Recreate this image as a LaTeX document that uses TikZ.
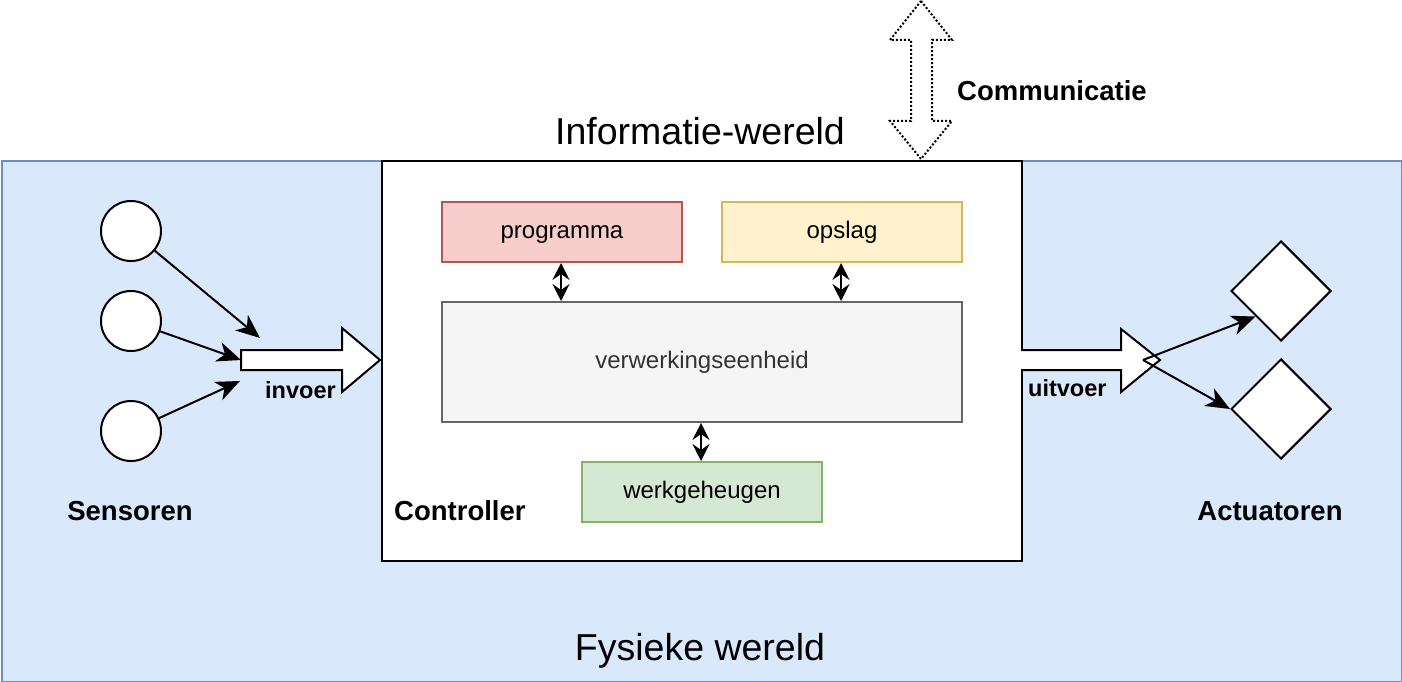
\documentclass[tikz,border=0pt]{standalone}
\usepackage{fontspec}
\setmainfont{Liberation Sans}
\usetikzlibrary{arrows.meta,shapes.geometric}
\definecolor{outerfill}{HTML}{DAE8FC}
\definecolor{outerline}{HTML}{6C8EBF}
\definecolor{redfill}{HTML}{F8CECC}
\definecolor{redline}{HTML}{B85450}
\definecolor{yelfill}{HTML}{FFF2CC}
\definecolor{yelline}{HTML}{D6B656}
\definecolor{grayfill}{HTML}{F5F5F5}
\definecolor{grayline}{HTML}{666666}
\definecolor{graytext}{HTML}{333333}
\definecolor{grnfill}{HTML}{D5E8D4}
\definecolor{grnline}{HTML}{82B366}
\tikzset{
  box/.style={rectangle, line width=2pt, inner sep=0pt, text height=17pt, text depth=5pt, font=\fontsize{24}{28}\selectfont},
  sensor/.style={circle, draw=black, fill=white, line width=2pt, minimum size=60pt, inner sep=0pt},
  actuator/.style={diamond, draw=black, fill=white, line width=2pt, minimum size=100pt, inner sep=0pt},
  bigarrow/.style={draw=black, fill=white, line width=2pt, line join=miter},
  tipA/.tip={Stealth[length=24pt,width=20pt,inset=7pt]},
  tipB/.tip={Stealth[length=17pt,width=17pt,inset=6pt]},
  conn/.style={line width=2pt, -tipA},
  dconn/.style={line width=2pt, tipB-tipB},
  boldlbl/.style={font=\bfseries\fontsize{27.5}{32}\selectfont, inner sep=0pt},
  smallbold/.style={font=\bfseries\fontsize{23.5}{28}\selectfont, inner sep=0pt},
  title/.style={font=\fontsize{37.5}{44}\selectfont, inner sep=0pt},
}
\begin{document}
\begin{tikzpicture}[x=1pt,y=-1pt]
\useasboundingbox (0,0) rectangle (1402,682);
% outer world
\node[rectangle, draw=outerline, fill=outerfill, line width=2pt, minimum width=1400pt, minimum height=521pt, anchor=north west, inner sep=0pt] (fysiek) at (1,160) {};
% controller
\node[rectangle, draw=black, fill=white, line width=2pt, minimum width=640pt, minimum height=400pt, anchor=north west, inner sep=0pt] (ctrl) at (381,160) {};
% inner boxes
\node[box, draw=redline, fill=redfill, minimum width=240pt, minimum height=60pt, anchor=north west] (prog) at (441,201) {programma};
\node[box, draw=yelline, fill=yelfill, minimum width=240pt, minimum height=60pt, anchor=north west] (opslag) at (721,201) {opslag};
\node[box, draw=grayline, fill=grayfill, text=graytext, minimum width=520pt, minimum height=120pt, anchor=north west] (cpu) at (441,301) {verwerkingseenheid};
\node[box, draw=grnline, fill=grnfill, minimum width=240pt, minimum height=60pt, anchor=north west] (mem) at (581,461) {werkgeheugen};
\draw[dconn] (prog.south -| 561,0) -- (cpu.north -| 561,0);
\draw[dconn] (opslag.south -| 841,0) -- (cpu.north -| 841,0);
\draw[dconn] (cpu.south -| 701,0) -- (mem.north -| 701,0);
% sensors
\node[sensor] (s1) at (131,231) {};
\node[sensor] (s2) at (131,321) {};
\node[sensor] (s3) at (131,431) {};
% actuators
\node[actuator] (a1) at (1281,291) {};
\node[actuator] (a2) at (1281,409) {};
% invoer arrow
\draw[bigarrow] (241,350) -- (342,350) -- (342,328) -- (380,360) -- (342,392) -- (342,370) -- (241,370) -- cycle;
% uitvoer arrow
\draw[bigarrow] (1021,350) -- (1121,350) -- (1121,329) -- (1160,360) -- (1121,392) -- (1121,370) -- (1021,370);
% sensor connectors
\coordinate (c1) at (260,338);
\coordinate (c2) at (241,360);
\coordinate (c3) at (240,381);
\draw[conn] (s1) -- (c1);
\draw[conn] (s2) -- (c2);
\draw[conn] (s3) -- (c3);
% actuator connectors
\coordinate (out) at (1143,360);
\draw[conn] (out) -- (a1.south west);
\draw[conn] (out) -- (a2.west);
% communication double arrow
\draw[line width=2pt, dotted, fill=white] (921,1) -- (952,40) -- (932,40) -- (932,121) -- (952,121) -- (921,159) -- (890,121) -- (911,121) -- (911,40) -- (890,40) -- cycle;
% labels
\node[boldlbl, anchor=west] (comm) at (957,91) {Communicatie};
\node[title] (info) at (700,131) {Informatie-wereld};
\node[title] (fys) at (700,651) {Fysieke wereld};
\node[boldlbl] (sens) at (130,511) {Sensoren};
\node[boldlbl, anchor=west] (ctl) at (394,511) {Controller};
\node[boldlbl] (act) at (1270,511) {Actuatoren};
\node[smallbold, anchor=west] (inv) at (265,390) {invoer};
\node[smallbold, anchor=west] (uitv) at (1028,388) {uitvoer};
\end{tikzpicture}
\end{document}
